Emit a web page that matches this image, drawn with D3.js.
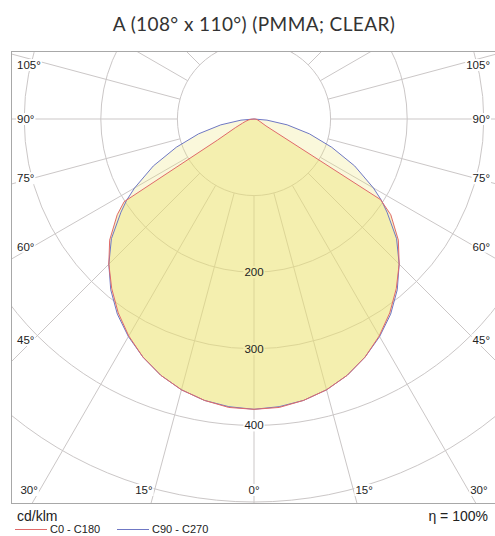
<!DOCTYPE html>
<html>
<head>
<meta charset="utf-8">
<script src="https://cdn.jsdelivr.net/npm/d3@7"></script>
<style>
  body { margin: 0; background: #fff; }
  text { font-family: "Liberation Sans", Arial, sans-serif; fill: #222; }
</style>
</head>
<body>
<svg id="chart" width="495" height="536"></svg>
<script>
// gamma angles in degrees from nadir, intensities in cd/klm
var gammaDeg   = [0, 5, 10, 15, 20, 25, 30, 35, 40, 45, 50, 55, 57.5, 60, 65, 70, 75, 80, 85, 90];
var c0Values   = [379, 378, 373, 366, 356, 343, 327, 309, 289, 268, 246, 218, 196, 18, 10, 7, 5, 4, 2, 0];
var c180Values = [379, 378, 373, 366, 356, 343, 327, 309, 289, 268, 246, 218, 201, 55, 27, 16, 11, 7, 4, 0];
var c90Values  = [379, 377, 373, 366, 356, 343, 328, 311, 291, 268, 243, 212, 197, 180, 145, 108, 75, 44, 17, 0];
var c270Values = [379, 377, 373, 366, 356, 343, 328, 311, 291, 268, 243, 212, 197, 180, 145, 108, 75, 44, 17, 0];

var ringValues = [100, 200, 300, 400, 500, 600, 700, 800];
var ringLabels = [200, 300, 400];
var sideAngleLabels = [105, 90, 75, 60, 45];
var bottomAngleLabels = [30, 15, 0];

var title = "A (108° x 110°) (PMMA; CLEAR)";
var unitLabel = "cd/klm";
var etaLabel = "\u03b7 = 100%";
var legendNames = ["C0 - C180", "C90 - C270"];
var legendColors = ["#e06a6a", "#6f78c4"];

var frame = {left: 11, top: 51, right: 497, bottom: 503};
var cx = 254, cy = 119;
var rad = Math.PI / 180;

var svg = d3.select("#chart");
var r = d3.scaleLinear().domain([0, 500]).range([0, 383]);

// title
svg.append("text")
    .attr("x", 254).attr("y", 31)
    .attr("text-anchor", "middle")
    .style("font-family", "Lato, 'Noto Sans', sans-serif")
    .style("font-size", "19px")
    .style("letter-spacing", "0.4px")
    .style("fill", "#333")
    .text(title);

svg.append("clipPath").attr("id", "frameClip")
  .append("rect")
    .attr("x", frame.left).attr("y", frame.top)
    .attr("width", frame.right - frame.left).attr("height", frame.bottom - frame.top);

var plot = svg.append("g").attr("clip-path", "url(#frameClip)");
var grid = plot.append("g").attr("transform", "translate(" + cx + "," + cy + ")");

//rings
grid.selectAll("circle.ring").data(ringValues).enter().append("circle")
    .attr("class", "ring")
    .attr("r", function(d) { return r(d); })
    .attr("fill", "none")
    .attr("stroke", "#cbc7c7")
    .attr("stroke-width", 1);

//radial lines every 15 degrees, starting at the first ring
var spokes = d3.range(0, 360, 15);
grid.selectAll("line.spoke").data(spokes).enter().append("line")
    .attr("class", "spoke")
    .attr("x1", function(d) { return d3.pointRadial(Math.PI - d * rad, r(100))[0]; })
    .attr("y1", function(d) { return d3.pointRadial(Math.PI - d * rad, r(100))[1]; })
    .attr("x2", function(d) { return d3.pointRadial(Math.PI - d * rad, r(1000))[0]; })
    .attr("y2", function(d) { return d3.pointRadial(Math.PI - d * rad, r(1000))[1]; })
    .attr("stroke", "#cbc7c7")
    .attr("stroke-width", 1);

var bgLayer = plot.append("g");
var curveLayer = plot.append("g").attr("transform", "translate(" + cx + "," + cy + ")");
var labelLayer = svg.append("g");

//builds the closed outline: left half (C180/C270) then right half (C0/C90)
function outline(leftVals, rightVals) {
    var pts = [];
    for (var i = gammaDeg.length - 1; i >= 0; i--) {
        pts.push({a: Math.PI + gammaDeg[i] * rad, v: leftVals[i]});
    }
    for (var j = 1; j < gammaDeg.length; j++) {
        pts.push({a: Math.PI - gammaDeg[j] * rad, v: rightVals[j]});
    }
    return pts;
}

var radial = d3.lineRadial()
    .angle(function(d) { return d.a; })
    .radius(function(d) { return r(d.v); })
    .curve(d3.curveLinearClosed);

var blueShape = outline(c270Values, c90Values);
var redShape = outline(c180Values, c0Values);

curveLayer.append("path").attr("d", radial(blueShape))
    .attr("fill", "rgb(236,226,110)").attr("fill-opacity", 0.25).attr("stroke", "none");
curveLayer.append("path").attr("d", radial(redShape))
    .attr("fill", "rgb(236,226,110)").attr("fill-opacity", 0.4).attr("stroke", "none");
curveLayer.append("path").attr("d", radial(blueShape))
    .attr("fill", "none").attr("stroke", legendColors[1]).attr("stroke-width", 1);
curveLayer.append("path").attr("d", radial(redShape))
    .attr("fill", "none").attr("stroke", legendColors[0]).attr("stroke-width", 1);

//labels with a white box behind them
function addLabel(x, y, txt, anchor) {
    var t = labelLayer.append("text")
        .attr("x", x).attr("y", y).attr("dy", "0.35em")
        .attr("text-anchor", anchor)
        .style("font-size", "11.5px")
        .text(txt);
    var bb = t.node().getBBox();
    bgLayer.append("rect")
        .attr("x", bb.x - 1).attr("y", bb.y)
        .attr("width", bb.width + 2).attr("height", bb.height)
        .attr("fill", "#fff");
}

ringLabels.forEach(function(v) {
    addLabel(cx, cy + r(v), String(v), "middle");
});

sideAngleLabels.forEach(function(g) {
    var dx = cx - 33;
    var y = cy + dx * Math.cos(g * rad) / Math.sin(g * rad);
    y = Math.max(y, frame.top + 14);
    addLabel(17, y, g + "°", "start");
    addLabel(490, y, g + "°", "end");
});

bottomAngleLabels.forEach(function(g) {
    var y = 490;
    var dx = (y - cy) * Math.tan(g * rad);
    if (g === 0) {
        addLabel(cx, y, "0°", "middle");
    } else {
        addLabel(cx - dx - 2, y, g + "°", "end");
        addLabel(cx + dx + 2, y, g + "°", "start");
    }
});

//frame
svg.append("rect")
    .attr("x", frame.left + 0.5).attr("y", frame.top + 0.5)
    .attr("width", frame.right - frame.left).attr("height", frame.bottom - frame.top)
    .attr("fill", "none").attr("stroke", "#a8a8a8").attr("stroke-width", 1);

//footer
svg.append("text").attr("x", 17).attr("y", 521)
    .style("font-size", "14px").text(unitLabel);
svg.append("text").attr("x", 488).attr("y", 521).attr("text-anchor", "end")
    .style("font-size", "14px").text(etaLabel);

var legendX = [15, 117];
legendNames.forEach(function(name, i) {
    svg.append("line")
        .attr("x1", legendX[i]).attr("x2", legendX[i] + 32)
        .attr("y1", 529.5).attr("y2", 529.5)
        .attr("stroke", legendColors[i]).attr("stroke-width", 1);
    svg.append("text")
        .attr("x", legendX[i] + 35).attr("y", 533)
        .style("font-size", "11px").text(name);
});
</script>
</body>
</html>
